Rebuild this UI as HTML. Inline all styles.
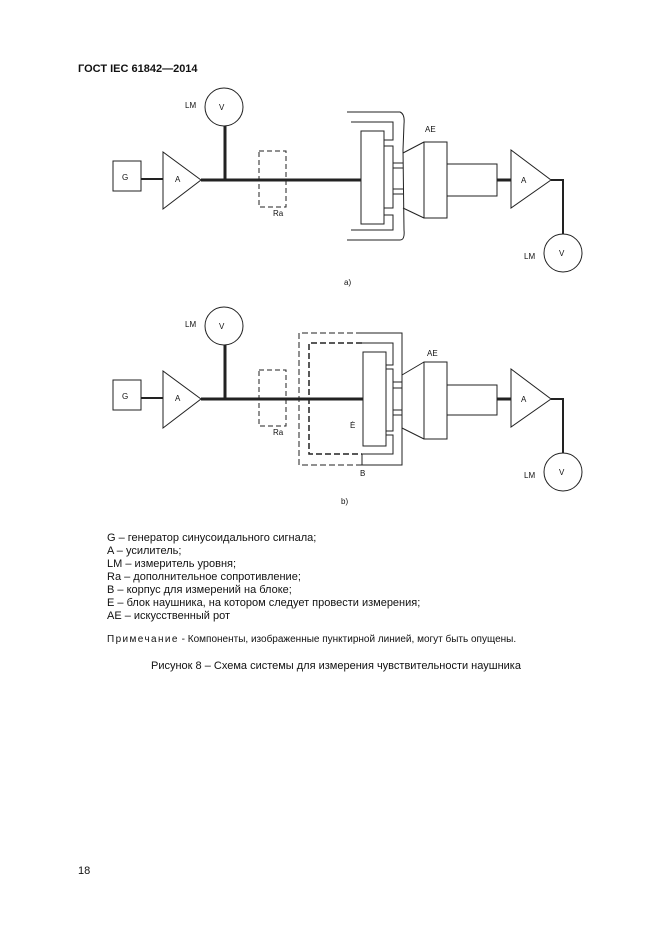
<!DOCTYPE html>
<html><head><meta charset="utf-8"><style>
html,body{margin:0;padding:0;background:#fff}
svg{display:block}
text{font-family:"Liberation Sans",sans-serif;fill:#111}
</style></head><body>
<svg width="661" height="936" viewBox="0 0 661 936" xmlns="http://www.w3.org/2000/svg">
<text x="78" y="72" font-size="11" font-weight="bold">ГОСТ IEC 61842—2014</text>

<!-- Diagram a -->
<g fill="none" stroke="#222" stroke-width="1">
<rect x="113" y="161" width="28" height="30"/>
<line x1="141" y1="179" x2="163" y2="179" stroke-width="2"/>
<polygon points="163,152 163,209 201,180"/>
<line x1="201" y1="180" x2="361" y2="180" stroke-width="3"/>
<line x1="225" y1="180" x2="225" y2="126" stroke-width="3"/>
<circle cx="224" cy="107" r="19"/>
<rect x="259" y="151" width="27" height="56" stroke-dasharray="5,3" fill="#fff"/>
<line x1="259" y1="180" x2="286" y2="180" stroke-width="3"/>
<rect x="361" y="131" width="23" height="93"/>
<rect x="384" y="146" width="9" height="62"/>
<line x1="393" y1="163" x2="403" y2="163"/><line x1="393" y1="168" x2="403" y2="168"/>
<line x1="393" y1="189" x2="403" y2="189"/><line x1="393" y1="194" x2="403" y2="194"/>
<polyline points="351,122 393,122 393,140 384,140"/>
<polyline points="351,230 393,230 393,215 384,215"/>
<path d="M347,112 L400,112 Q405,114 404,124 L403,150 L404,230 Q405,240 400,240 L347,240"/>
<line x1="403" y1="153" x2="424" y2="142"/><line x1="403" y1="208" x2="424" y2="218"/>
<rect x="424" y="142" width="23" height="76"/>
<rect x="447" y="164" width="50" height="32"/>
<line x1="497" y1="180" x2="511" y2="180" stroke-width="3"/>
<polygon points="511,150 511,208 551,180"/>
<polyline points="551,180 563,180 563,234" stroke-width="2"/>
<circle cx="563" cy="253" r="19"/>
</g>
<g font-size="8">
<text x="122" y="180">G</text><text x="175" y="182">A</text>
<text x="219" y="110">V</text><text x="185" y="108">LM</text>
<text x="273" y="216">Ra</text><text x="425" y="132">AE</text>
<text x="521" y="183">A</text><text x="559" y="256">V</text>
<text x="524" y="259">LM</text><text x="344" y="285">a)</text>
</g>

<!-- Diagram b -->
<g fill="none" stroke="#222" stroke-width="1">
<rect x="113" y="380" width="28" height="30"/>
<line x1="141" y1="398" x2="163" y2="398" stroke-width="2"/>
<polygon points="163,371 163,428 201,399"/>
<line x1="201" y1="399" x2="363" y2="399" stroke-width="3"/>
<line x1="225" y1="399" x2="225" y2="345" stroke-width="3"/>
<circle cx="224" cy="326" r="19"/>
<rect x="259" y="370" width="27" height="56" stroke-dasharray="5,3" fill="#fff"/>
<line x1="259" y1="399" x2="286" y2="399" stroke-width="3"/>
<path d="M362,333 L299,333 L299,465 L362,465" stroke-dasharray="6,3"/>
<path d="M362,333 L402,333 L402,465 L362,465 L362,454"/>
<path d="M362,343 L309,343 L309,454 L362,454" stroke-dasharray="6,3" stroke-width="1.5"/>
<polyline points="362,343 393,343 393,365 386,365"/>
<polyline points="362,454 393,454 393,435 386,435"/>
<rect x="363" y="352" width="23" height="94"/>
<rect x="386" y="369" width="7" height="62"/>
<line x1="393" y1="382" x2="402" y2="382"/><line x1="393" y1="388" x2="402" y2="388"/>
<line x1="393" y1="410" x2="402" y2="410"/><line x1="393" y1="415" x2="402" y2="415"/>
<line x1="402" y1="375" x2="424" y2="362"/><line x1="402" y1="428" x2="424" y2="439"/>
<rect x="424" y="362" width="23" height="77"/>
<rect x="447" y="385" width="50" height="30"/>
<line x1="497" y1="399" x2="511" y2="399" stroke-width="3"/>
<polygon points="511,369 511,427 551,399"/>
<polyline points="551,399 563,399 563,453" stroke-width="2"/>
<circle cx="563" cy="472" r="19"/>
</g>
<g font-size="8">
<text x="122" y="399">G</text><text x="175" y="401">A</text>
<text x="219" y="329">V</text><text x="185" y="327">LM</text>
<text x="273" y="435">Ra</text><text x="427" y="356">AE</text>
<text x="521" y="402">A</text><text x="559" y="475">V</text>
<text x="524" y="478">LM</text><text x="350" y="428">Ė</text>
<text x="360" y="476">B</text><text x="341" y="504">b)</text>
</g>

<g font-size="11">
<text x="107" y="541">G – генератор синусоидального сигнала;</text>
<text x="107" y="554">A – усилитель;</text>
<text x="107" y="567">LM – измеритель уровня;</text>
<text x="107" y="580">Ra – дополнительное сопротивление;</text>
<text x="107" y="593">B – корпус для измерений на блоке;</text>
<text x="107" y="606">E – блок наушника, на котором следует провести измерения;</text>
<text x="107" y="619">AE – искусственный рот</text>
</g>
<text x="107" y="642" font-size="10"><tspan letter-spacing="1.4">Примечание</tspan> - Компоненты, изображенные пунктирной линией, могут быть опущены.</text>
<text x="151" y="669" font-size="11">Рисунок  8 – Схема системы для измерения чувствительности наушника</text>
<text x="78" y="874" font-size="11">18</text>
</svg>
</body></html>
